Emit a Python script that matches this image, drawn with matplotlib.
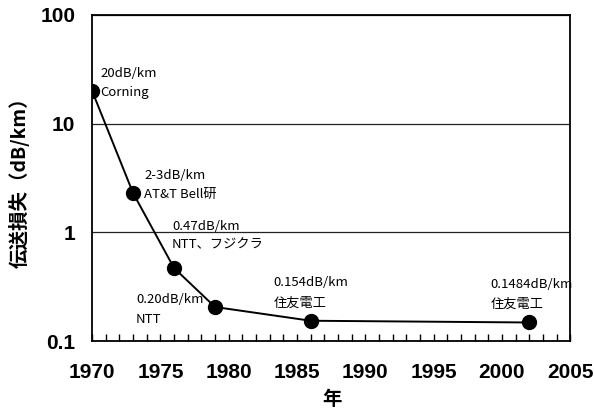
import matplotlib.pyplot as plt
from matplotlib.ticker import FixedLocator, MultipleLocator, NullLocator

plt.rcParams['font.family'] = ['Noto Sans CJK JP', 'DejaVu Sans']

# 光ファイバ伝送損失の推移
years = [1970, 1973, 1976, 1979, 1986, 2002]
loss = [20, 2.3, 0.47, 0.206, 0.154, 0.1484]
loss_labels = ['20dB/km', '2-3dB/km', '0.47dB/km', '0.20dB/km', '0.154dB/km', '0.1484dB/km']
makers = ['Corning', 'AT&T Bell研', 'NTT、フジクラ', 'NTT', '住友電工', '住友電工']

# label offsets in pixels from each marker: (dx, dy of first line, dy of second line)
offsets = [(8, 17, -2), (11, 18, -1), (-2, 42, 23), (-79, 7, -13), (-37, 38, 17), (-39, 38, 18)]

fig = plt.figure(figsize=(5.94, 4.12), dpi=100)
ax = fig.add_axes([0.155, 0.172, 0.805, 0.792])

ax.plot(years, loss, color='black', lw=1.4, marker='o', ms=10, zorder=3)

for x, y, l1, l2, (dx, dy1, dy2) in zip(years, loss, loss_labels, makers, offsets):
    ax.annotate(l1, (x, y), xytext=(dx, dy1), textcoords='offset pixels',
                fontsize=9.5, va='center', ha='left')
    ax.annotate(l2, (x, y), xytext=(dx, dy2), textcoords='offset pixels',
                fontsize=9.5, va='center', ha='left')

ax.set_yscale('log')
ax.set_ylim(0.1, 100)
ax.set_xlim(1970, 2005)
ax.yaxis.set_major_locator(FixedLocator([0.1, 1, 10, 100]))
ax.yaxis.set_minor_locator(NullLocator())
ax.set_yticklabels(['0.1', '1', '10', '100'])
ax.xaxis.set_major_locator(MultipleLocator(5))
ax.xaxis.set_minor_locator(MultipleLocator(1))
ax.grid(axis='y', which='major', color='#222222', lw=0.9)

ax.tick_params(axis='x', which='both', direction='in', length=5, width=1, pad=16)
ax.tick_params(axis='y', which='both', length=0, pad=12)
for lab in ax.get_xticklabels() + ax.get_yticklabels():
    lab.set_fontsize(15)
    lab.set_fontweight('bold')
    lab.set_family('Liberation Sans')

for s in ax.spines.values():
    s.set_linewidth(1.3)

ax.set_xlabel('年', fontsize=14, fontweight='bold')
ax.xaxis.set_label_coords((332 - 92) / 478, (341 - 390) / 326)
ax.set_ylabel('伝送損失（dB/km）', fontsize=14, fontweight='bold')
ax.yaxis.set_label_coords((30 - 92) / 478, 0.5)

fig.savefig('out.png', dpi=100)
